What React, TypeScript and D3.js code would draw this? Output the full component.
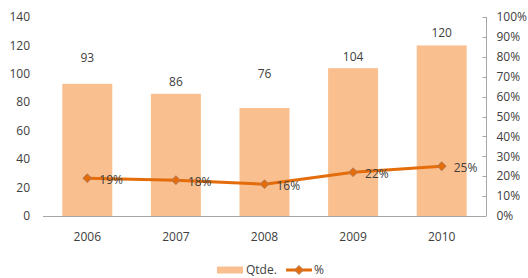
import React, { useEffect, useRef } from 'react';
import * as d3 from 'd3';

const years = ['2006', '2007', '2008', '2009', '2010'];
const qtde = [93, 86, 76, 104, 120];
const pct = [19, 18, 16, 22, 25];
// extra lift of each value label above its bar (as placed in the source chart)
const labelLift = [26, 12, 34, 11, 13];
const leftTicks = [0, 20, 40, 60, 80, 100, 120, 140];
const rightTicks = [0, 10, 20, 30, 40, 50, 60, 70, 80, 90, 100];

const BAR = '#F9BF8F';
const LINE = '#E46C0A';
const TEXT = '#404040';
const FONT = '"Open Sans", "Noto Sans", sans-serif';

function App() {
  const ref = useRef<SVGSVGElement | null>(null);

  useEffect(() => {
    const width = 528, height = 278;
    const margin = { top: 17, right: 42, bottom: 62, left: 43 };
    const svg = d3.select(ref.current);
    svg.selectAll('*').remove();

    const x = d3.scaleBand()
      .domain(years)
      .range([margin.left, width - margin.right])
      .paddingInner(0.436)
      .paddingOuter(0.218);

    const y = d3.scaleLinear().domain([0, 140]).range([height - margin.bottom, margin.top]);
    const y2 = d3.scaleLinear().domain([0, 100]).range([height - margin.bottom, margin.top]);
    const base = y(0);
    const right = width - margin.right;

    // Bars
    svg.append('g')
      .selectAll('rect')
      .data(qtde)
      .join('rect')
        .attr('x', (d, i) => x(years[i])!)
        .attr('y', d => y(d))
        .attr('width', x.bandwidth())
        .attr('height', d => base - y(d))
        .attr('fill', BAR);

    // Bar value labels
    svg.append('g')
      .selectAll('text')
      .data(qtde)
      .join('text')
        .attr('x', (d, i) => x(years[i])! + x.bandwidth() / 2)
        .attr('y', (d, i) => y(d) - labelLift[i])
        .attr('dy', '0.35em')
        .attr('text-anchor', 'middle')
        .attr('font-family', FONT)
        .attr('font-size', 12)
        .attr('fill', TEXT)
        .text(d => d);

    // Baseline
    svg.append('line')
      .attr('x1', margin.left).attr('x2', right)
      .attr('y1', base + 0.5).attr('y2', base + 0.5)
      .attr('stroke', '#A6A6A6');

    // Left axis labels
    svg.append('g')
      .selectAll('text')
      .data(leftTicks)
      .join('text')
        .attr('x', 30)
        .attr('y', d => y(d))
        .attr('dy', '0.35em')
        .attr('text-anchor', 'end')
        .attr('font-family', FONT)
        .attr('font-size', 12)
        .attr('fill', TEXT)
        .text(d => d);

    // Right axis
    const ra = svg.append('g').attr('transform', `translate(${right + 0.5},0)`);
    ra.append('line')
      .attr('y1', y2(100)).attr('y2', base)
      .attr('stroke', '#A6A6A6');
    ra.selectAll('line.tick')
      .data(rightTicks)
      .join('line')
        .attr('class', 'tick')
        .attr('x1', -4).attr('x2', 0)
        .attr('y1', d => Math.round(y2(d)) + 0.5)
        .attr('y2', d => Math.round(y2(d)) + 0.5)
        .attr('stroke', '#A6A6A6');
    ra.selectAll('text')
      .data(rightTicks)
      .join('text')
        .attr('x', 10)
        .attr('y', d => y2(d))
        .attr('dy', '0.35em')
        .attr('font-family', FONT)
        .attr('font-size', 12)
        .attr('fill', TEXT)
        .text(d => d + '%');

    // Year labels
    svg.append('g')
      .selectAll('text')
      .data(years)
      .join('text')
        .attr('x', d => x(d)! + x.bandwidth() / 2)
        .attr('y', base + 21)
        .attr('dy', '0.35em')
        .attr('text-anchor', 'middle')
        .attr('font-family', FONT)
        .attr('font-size', 12)
        .attr('fill', TEXT)
        .text(d => d);

    // Percent line
    const cx = (i: number) => x(years[i])! + x.bandwidth() / 2;
    const line = d3.line<number>()
      .x((d, i) => cx(i))
      .y(d => y2(d));

    svg.append('path')
      .datum(pct)
      .attr('fill', 'none')
      .attr('stroke', LINE)
      .attr('stroke-width', 3)
      .attr('d', line);

    const diamond = d3.symbol().type(d3.symbolDiamond2).size(50);
    svg.append('g')
      .selectAll('path')
      .data(pct)
      .join('path')
        .attr('transform', (d, i) => `translate(${cx(i)},${y2(d)})`)
        .attr('d', diamond)
        .attr('fill', LINE)
        .attr('stroke', '#B07C5A')
        .attr('stroke-width', 1);

    svg.append('g')
      .selectAll('text')
      .data(pct)
      .join('text')
        .attr('x', (d, i) => cx(i) + 12)
        .attr('y', d => y2(d) + 2)
        .attr('dy', '0.35em')
        .attr('font-family', FONT)
        .attr('font-size', 12)
        .attr('fill', TEXT)
        .text(d => d + '%');

    // Legend
    const ly = 270;
    const lg = svg.append('g');
    lg.append('rect')
      .attr('x', 217).attr('y', ly - 3.5)
      .attr('width', 26).attr('height', 7)
      .attr('fill', BAR);
    lg.append('text')
      .attr('x', 246).attr('y', ly)
      .attr('dy', '0.35em')
      .attr('font-family', FONT)
      .attr('font-size', 12)
      .attr('fill', TEXT)
      .text('Qtde.');
    lg.append('line')
      .attr('x1', 286).attr('x2', 312)
      .attr('y1', ly).attr('y2', ly)
      .attr('stroke', LINE)
      .attr('stroke-width', 3);
    lg.append('path')
      .attr('transform', `translate(299,${ly})`)
      .attr('d', diamond)
      .attr('fill', LINE)
      .attr('stroke', '#B07C5A');
    lg.append('text')
      .attr('x', 314).attr('y', ly)
      .attr('dy', '0.35em')
      .attr('font-family', FONT)
      .attr('font-size', 12)
      .attr('fill', TEXT)
      .text('%');
  }, []);

  return (
    <svg
      ref={ref}
      width={528}
      height={278}
      style={{ position: 'absolute', left: 0, top: 0, background: '#fff' }}
    />
  );
}

export default App;
